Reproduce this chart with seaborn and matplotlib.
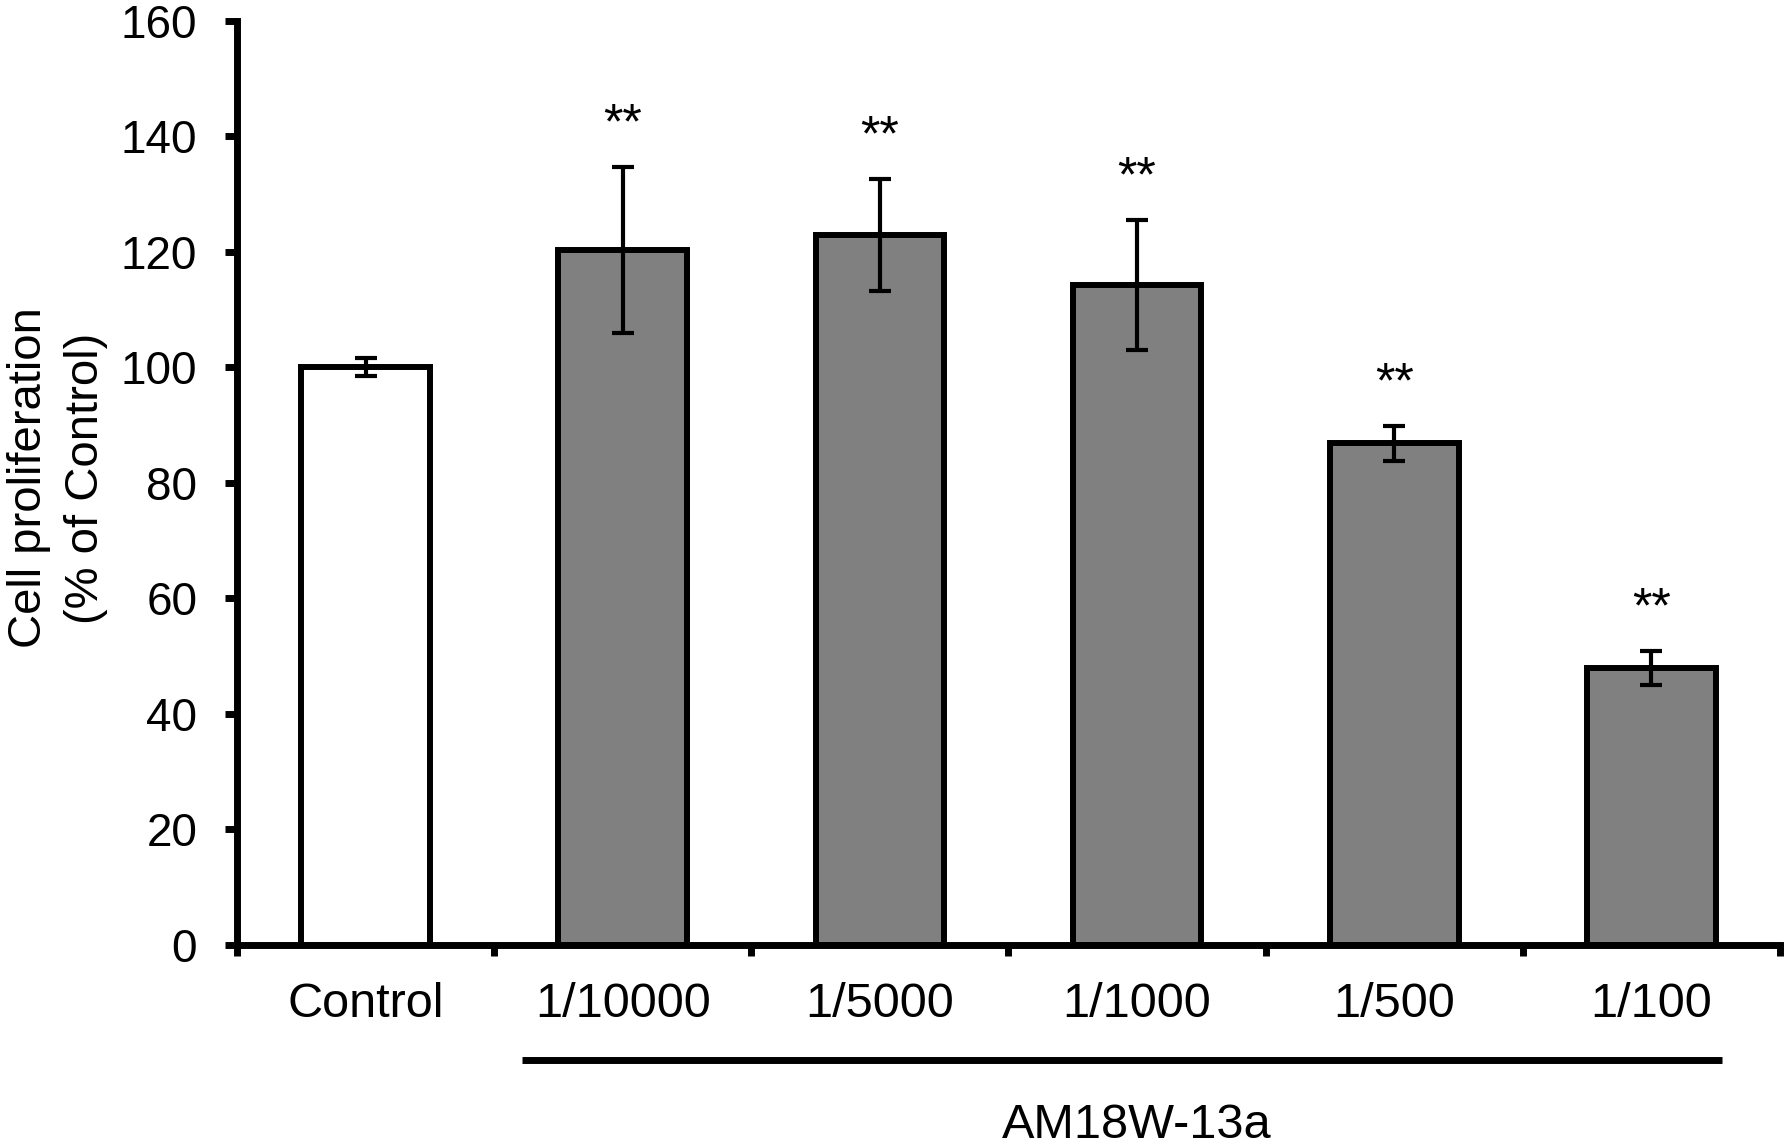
import numpy as np
import pandas as pd
import matplotlib
matplotlib.use("Agg")
import matplotlib.pyplot as plt
import seaborn as sns

# valores
grupos = ["Control", "1/10000", "1/5000", "1/1000", "1/500", "1/100"]
media = [100.0, 120.3, 122.9, 114.2, 86.8, 47.9]
erro = [1.6, 14.4, 9.7, 11.2, 3.0, 2.9]
signif = ["", "**", "**", "**", "**", "**"]
cores = ["white", "#808080", "#808080", "#808080", "#808080", "#808080"]
yticks = [0, 20, 40, 60, 80, 100, 120, 140, 160]
tratamento = "AM18W-13a"

sns.set_style("ticks", {"axes.edgecolor": "black", "text.color": "black",
                        "xtick.color": "black", "ytick.color": "black",
                        "axes.labelcolor": "black"})
plt.rcParams["font.family"] = ["Liberation Sans", "DejaVu Sans"]

df = pd.DataFrame({"grupo": grupos, "media": media, "erro": erro})

fig = plt.figure(figsize=(17.87, 11.42), dpi=100)
ax = fig.add_axes([0.1326, 0.1728, 0.8635, 0.8091])

sns.barplot(data=df, x="grupo", y="media", hue="grupo", palette=cores,
            order=grupos, hue_order=grupos, width=0.5, edgecolor="black",
            linewidth=4.3, legend=False, ax=ax, saturation=1)

x = np.arange(len(grupos))
ax.errorbar(x, media, yerr=erro, fmt="none", ecolor="black",
            elinewidth=3, capsize=8, capthick=3, zorder=5)

# asteriscos acima das barras de erro
for xi, m, e, s in zip(x, media, erro, signif):
    if s:
        ax.text(xi, m + e + 5, s, ha="center", va="baseline", fontsize=36)

ax.set_xlim(-0.5, len(grupos) - 0.5)
ax.set_ylim(0, 160)
ax.set_yticks(yticks)
ax.tick_params(axis="y", labelsize=33, length=8.6, width=5, pad=20)

# ticks maiores nas fronteiras, rótulos nos centros
ax.set_xticks(np.arange(-0.5, len(grupos), 1))
ax.set_xticklabels([])
ax.set_xticks(x, minor=True)
ax.set_xticklabels(grupos, minor=True)
ax.tick_params(axis="x", which="major", length=8, width=5)
ax.tick_params(axis="x", which="minor", length=0, labelsize=35, pad=27)

ax.set_xlabel("")
ax.set_ylabel("Cell proliferation\n(% of Control)", fontsize=34, linespacing=1.4)
ax.yaxis.set_label_coords(-0.0835, 0.505)

sns.despine(ax=ax)
for lado in ["left", "bottom"]:
    ax.spines[lado].set_linewidth(5)

# barra do tratamento
ax.plot([0.607, 5.274], [-0.1248, -0.1248], color="black", lw=5,
        transform=ax.get_xaxis_transform(), clip_on=False, solid_capstyle="butt")
ax.text(3.0, -0.2092, tratamento, ha="center", va="baseline", fontsize=35,
        transform=ax.get_xaxis_transform())

fig.savefig("out.png", dpi=100)
